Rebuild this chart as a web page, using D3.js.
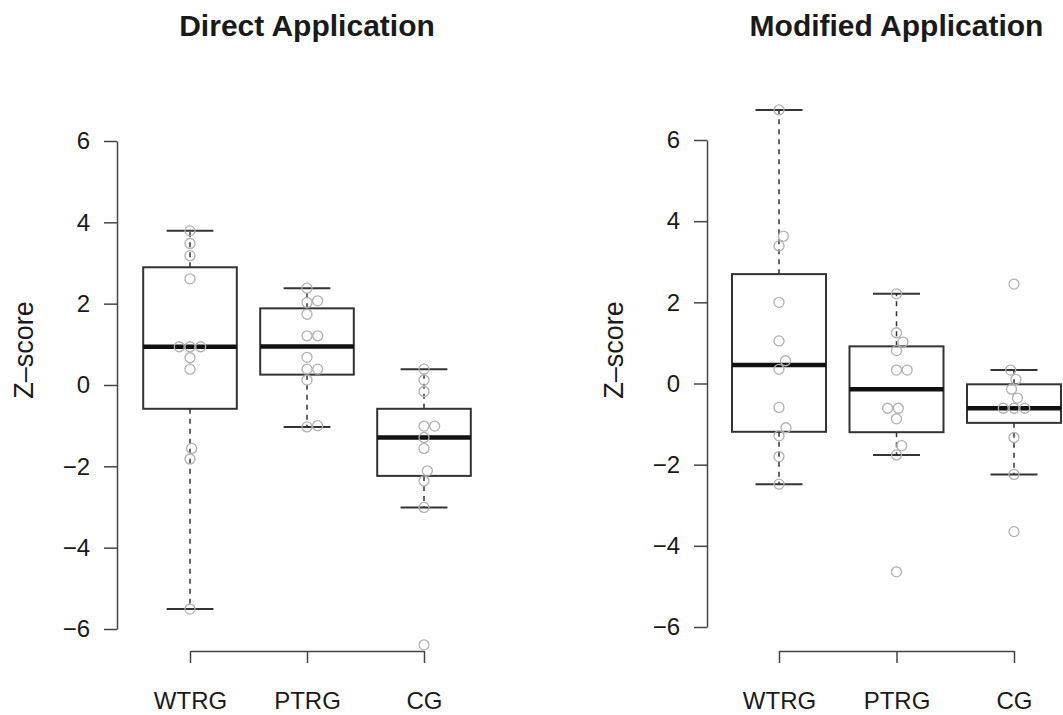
<html>
<head>
  <meta charset="utf-8">
  <script src="https://d3js.org/d3.v7.min.js"></script>
  <style>
    body { margin: 0; background: #fff; }
    text { font-family: "Liberation Sans", Arial, Helvetica, sans-serif; fill: #1a1a1a; }
  </style>
</head>
<body>
  <svg id="chart" width="1063" height="715"></svg>
  <script>
    // groups and Z-scores
    const groups = ["WTRG", "PTRG", "CG"];
    const yTicks = [-6, -4, -2, 0, 2, 4, 6];

    const directWTRG = [3.79, 3.48, 3.18, 2.61, 0.94, 0.94, 0.94, 0.67, 0.39, -1.56, -1.82, -5.51];
    const directPTRG = [2.38, 2.07, 2.03, 1.74, 1.21, 1.21, 0.68, 0.39, 0.39, 0.12, -1.0, -1.03];
    const directCG = [0.39, 0.12, -0.16, -1.01, -1.01, -1.29, -1.56, -2.11, -2.36, -3.01, -6.39];

    const modifiedWTRG = [6.74, 3.63, 3.39, 2.0, 1.05, 0.56, 0.35, -0.59, -1.09, -1.29, -1.8, -2.48];
    const modifiedPTRG = [2.21, 1.25, 1.02, 0.81, 0.33, 0.33, -0.61, -0.61, -0.87, -1.53, -1.76, -4.64];
    const modifiedCG = [2.45, 0.33, 0.1, -0.14, -0.36, -0.61, -0.61, -0.61, -1.33, -2.24, -3.65];

    const panels = [
      { title: "Direct Application", data: [directWTRG, directPTRG, directCG],
        axisX: 117, yRange: [629, 141], catRange: [190, 424] },
      { title: "Modified Application", data: [modifiedWTRG, modifiedPTRG, modifiedCG],
        axisX: 707, yRange: [627, 140], catRange: [779, 1014] }
    ];

    const svg = d3.select("#chart");

    // R style five number summary (Tukey hinges)
    function fivenum(vals) {
      const x = vals.slice().sort(d3.ascending);
      const n = x.length;
      const n4 = Math.floor((n + 3) / 2) / 2;
      const d = [1, n4, (n + 1) / 2, n + 1 - n4, n].map(v => v - 1);
      return d.map(i => 0.5 * (x[Math.floor(i)] + x[Math.ceil(i)]));
    }

    function boxStats(vals) {
      const f = fivenum(vals);
      const iqr = f[3] - f[1];
      const lo = d3.min(vals.filter(v => v >= f[1] - 1.5 * iqr));
      const hi = d3.max(vals.filter(v => v <= f[3] + 1.5 * iqr));
      return { q1: f[1], med: f[2], q3: f[3], lo: lo, hi: hi };
    }

    // simple swarm layout: place points in ascending order, as close to centre as possible
    function swarm(ys, D) {
      const order = d3.range(ys.length).sort((a, b) => ys[b] - ys[a]);
      const placed = [];
      const xs = new Array(ys.length);
      order.forEach(i => {
        const y = ys[i];
        let cands = [0];
        placed.forEach(p => {
          const dy = Math.abs(p.y - y);
          if (dy < D) {
            const dx = Math.sqrt(D * D - dy * dy);
            cands.push(p.x + dx, p.x - dx);
          }
        });
        cands = cands.filter(cx => placed.every(p => Math.hypot(p.x - cx, p.y - y) >= D - 0.01));
        cands.sort((a, b) => Math.abs(a) - Math.abs(b));
        xs[i] = cands[0];
        placed.push({ x: cands[0], y: y });
      });
      return xs;
    }

    panels.forEach(panel => {
      const y = d3.scaleLinear().domain([-6, 6]).range(panel.yRange);
      const x = d3.scalePoint().domain(groups).range(panel.catRange);
      const boxW = x.step() * 0.8;
      const g = svg.append("g");

      // title
      g.append("text")
        .attr("x", (panel.catRange[0] + panel.catRange[1]) / 2)
        .attr("y", 36)
        .attr("text-anchor", "middle")
        .style("font-size", "30px")
        .style("font-weight", "bold")
        .text(panel.title);

      // y axis
      const yAxis = g.append("g")
        .attr("transform", `translate(${panel.axisX},0)`)
        .call(d3.axisLeft(y).tickValues(yTicks).tickSize(13).tickPadding(14).tickSizeOuter(0));
      yAxis.selectAll("path, line").attr("stroke", "#444").attr("stroke-width", 1.5);
      yAxis.selectAll("text").style("font-size", "24px").style("font-family", null);

      g.append("text")
        .attr("transform", `translate(${panel.axisX - 84},350) rotate(-90)`)
        .attr("text-anchor", "middle")
        .style("font-size", "27px")
        .text("Z\u2013score");

      // category axis
      const xAxis = g.append("g")
        .attr("transform", "translate(0,651)")
        .call(d3.axisBottom(x).tickSize(12).tickPadding(29).tickSizeOuter(0));
      xAxis.selectAll("path, line").attr("stroke", "#444").attr("stroke-width", 1.5);
      xAxis.selectAll("text").style("font-size", "24px").style("font-family", null);

      // boxes
      panel.data.forEach((vals, gi) => {
        const cx = x(groups[gi]);
        const s = boxStats(vals);
        const bg = g.append("g");

        bg.selectAll("line.whisker")
          .data([[s.q3, s.hi], [s.q1, s.lo]])
          .join("line")
          .attr("class", "whisker")
          .attr("x1", cx).attr("x2", cx)
          .attr("y1", d => y(d[0])).attr("y2", d => y(d[1]))
          .attr("stroke", "#333").attr("stroke-width", 1.5)
          .attr("stroke-dasharray", "5,5");

        bg.selectAll("line.cap")
          .data([s.hi, s.lo])
          .join("line")
          .attr("class", "cap")
          .attr("x1", cx - boxW / 4).attr("x2", cx + boxW / 4)
          .attr("y1", d => y(d)).attr("y2", d => y(d))
          .attr("stroke", "#333").attr("stroke-width", 2);

        bg.append("rect")
          .attr("x", cx - boxW / 2)
          .attr("y", y(s.q3))
          .attr("width", boxW)
          .attr("height", y(s.q1) - y(s.q3))
          .attr("fill", "none")
          .attr("stroke", "#333").attr("stroke-width", 2);

        bg.append("line")
          .attr("x1", cx - boxW / 2).attr("x2", cx + boxW / 2)
          .attr("y1", y(s.med)).attr("y2", y(s.med))
          .attr("stroke", "#111").attr("stroke-width", 4.5);

        // beeswarm points
        const ys = vals.map(v => y(v));
        const offs = swarm(ys, 10.7);
        bg.selectAll("circle")
          .data(vals)
          .join("circle")
          .attr("cx", (d, i) => cx + offs[i])
          .attr("cy", d => y(d))
          .attr("r", 5)
          .attr("fill", "none")
          .attr("stroke", "#b0b0b0")
          .attr("stroke-width", 1.3);
      });
    });
  </script>
</body>
</html>
